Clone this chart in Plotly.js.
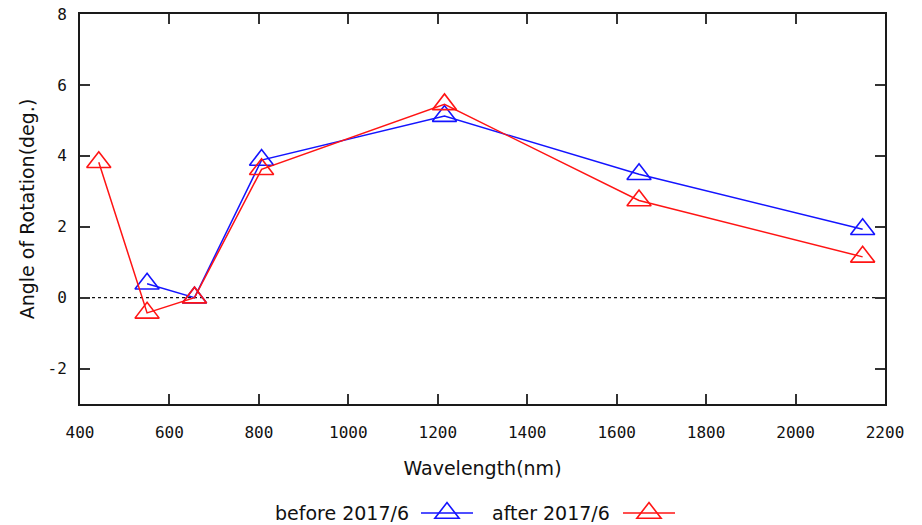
<!DOCTYPE html>
<html>
<head>
<meta charset="utf-8">
<script src="https://cdn.plot.ly/plotly-3.0.1.min.js"></script>
<style>
  html, body { margin: 0; padding: 0; background: #ffffff; }
  #chart { width: 922px; height: 525px; }
</style>
</head>
<body>
<div id="chart"></div>
<script>
// ---- data ----
const seriesNames = ["before 2017/6", "after 2017/6"];
const wavelengthBefore = [550, 656, 806, 1215, 1650, 2150];
const angleBefore      = [0.39, 0.0, 3.88, 5.12, 3.48, 1.93];
const wavelengthAfter  = [442, 550, 656, 806, 1215, 1650, 2150];
const angleAfter       = [3.82, -0.43, 0.0, 3.62, 5.45, 2.74, 1.15];
const xTickVals = [400, 600, 800, 1000, 1200, 1400, 1600, 1800, 2000, 2200];
const xTickText = ["400", "600", "800", "1000", "1200", "1400", "1600", "1800", "2000", "2200"];
const yTickVals = [-2, 0, 2, 4, 6, 8];
const yTickText = ["-2", "0", "2", "4", "6", "8"];
const xTitle = "Wavelength(nm)";
const yTitle = "Angle of Rotation(deg.)";

// ---- styling ----
const BLUE = "rgb(20,20,255)";
const RED = "rgb(255,20,20)";
const MARKER_SIZE = 21;
const W = 922, H = 525;
const M = { l: 80, r: 37, t: 14, b: 121 };
const PW = W - M.l - M.r, PH = H - M.t - M.b;
const px2paperX = px => (px - M.l) / PW;
const px2paperY = py => (H - M.b - py) / PH;

const traces = [
  {
    x: wavelengthBefore, y: angleBefore, name: seriesNames[0],
    type: "scatter", mode: "lines+markers",
    line: { color: BLUE, width: 1.5 },
    marker: { symbol: "triangle-up-open", size: MARKER_SIZE, color: BLUE, line: { width: 1.6, color: BLUE } },
    showlegend: false, cliponaxis: false
  },
  {
    x: wavelengthAfter, y: angleAfter, name: seriesNames[1],
    type: "scatter", mode: "lines+markers",
    line: { color: RED, width: 1.5 },
    marker: { symbol: "triangle-up-open", size: MARKER_SIZE, color: RED, line: { width: 1.6, color: RED } },
    showlegend: false, cliponaxis: false
  }
];

// ---- custom gnuplot-style legend (text then sample) ----
function legendSample(cx, cy, color) {
  const r = MARKER_SIZE / 2;
  const rt = r * 2 / Math.sqrt(3);
  const pts = [[cx - rt, cy + r / 2], [cx + rt, cy + r / 2], [cx, cy - r]];
  const path = "M" + pts.map(p => px2paperX(p[0]) + "," + px2paperY(p[1])).join(" L") + " Z";
  return [
    { type: "line", xref: "paper", yref: "paper",
      x0: px2paperX(cx - 26), x1: px2paperX(cx + 26), y0: px2paperY(cy), y1: px2paperY(cy),
      line: { color: color, width: 1.5 } },
    { type: "path", xref: "paper", yref: "paper", path: path,
      line: { color: color, width: 1.6 }, fillcolor: "rgba(0,0,0,0)" }
  ];
}
const legendY = 513;
const shapes = [
  { type: "line", xref: "paper", yref: "y", x0: 0, x1: 1, y0: 0, y1: 0,
    line: { color: "#111", width: 1.2, dash: "dot" }, layer: "below" }
].concat(legendSample(447, legendY, BLUE), legendSample(649, legendY, RED));

const legendFont = { family: "DejaVu Sans, sans-serif", size: 19, color: "#111" };
const annotations = [
  { xref: "paper", yref: "paper", x: px2paperX(411), y: px2paperY(legendY),
    xanchor: "right", yanchor: "middle", showarrow: false, text: seriesNames[0], font: legendFont },
  { xref: "paper", yref: "paper", x: px2paperX(612), y: px2paperY(legendY),
    xanchor: "right", yanchor: "middle", showarrow: false, text: seriesNames[1], font: legendFont }
];

const axisCommon = {
  showgrid: false, zeroline: false, showline: true, linecolor: "#1a1a1a", linewidth: 2,
  mirror: "ticks", ticks: "inside", ticklen: 10, tickwidth: 2, tickcolor: "#333",
  tickfont: { family: "DejaVu Sans Mono, monospace", size: 16, color: "#111" },
  automargin: false, fixedrange: true
};

const layout = {
  width: W, height: H,
  margin: M,
  paper_bgcolor: "#ffffff", plot_bgcolor: "#ffffff",
  showlegend: false,
  xaxis: Object.assign({}, axisCommon, {
    range: [400, 2200], tickmode: "array", tickvals: xTickVals, ticktext: xTickText,
    ticklabelstandoff: 13,
    title: { text: xTitle, font: { family: "DejaVu Sans, sans-serif", size: 19, color: "#111" }, standoff: 20 }
  }),
  yaxis: Object.assign({}, axisCommon, {
    range: [-3, 8], tickmode: "array", tickvals: yTickVals, ticktext: yTickText,
    ticklabelstandoff: 8,
    title: { text: yTitle, font: { family: "DejaVu Sans, sans-serif", size: 19, color: "#111" }, standoff: 8 }
  }),
  shapes: shapes,
  annotations: annotations
};

Plotly.newPlot("chart", traces, layout, { staticPlot: true, displayModeBar: false });
</script>
</body>
</html>
